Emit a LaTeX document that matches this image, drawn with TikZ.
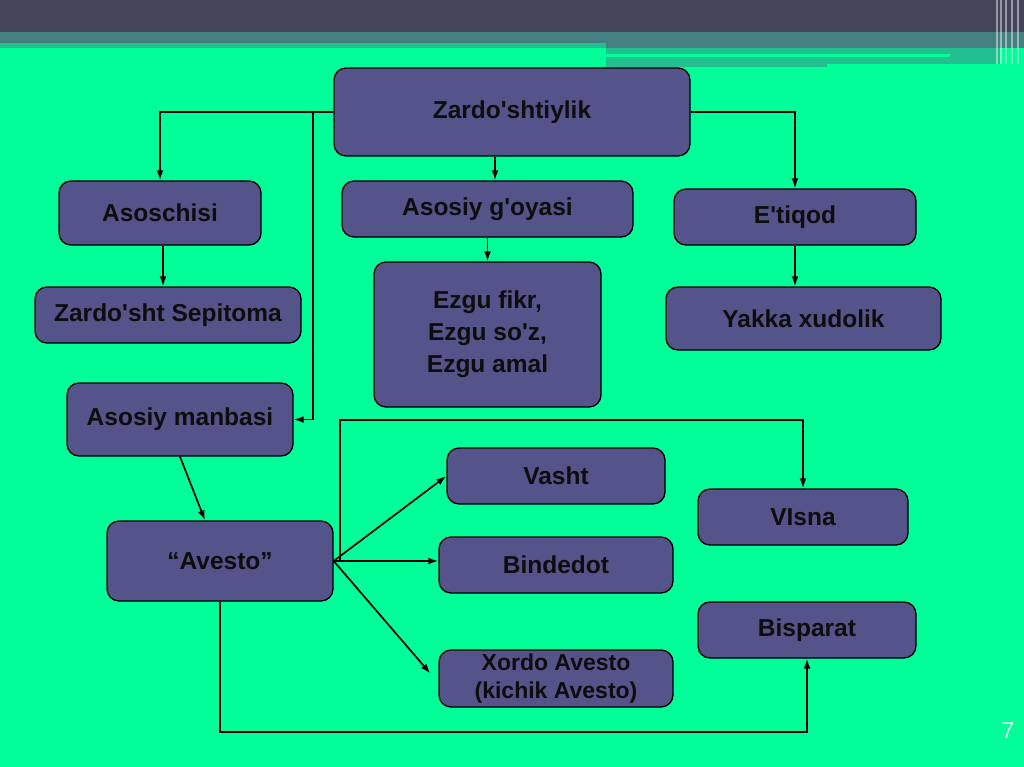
\documentclass[tikz,border=0pt]{standalone}
\usepackage{fontspec}
\setmainfont{Liberation Sans}
\usepackage{tikz}
\usetikzlibrary{arrows.meta}
\definecolor{slidegreen}{RGB}{0,255,153}
\definecolor{stripegreen}{RGB}{34,192,142}
\definecolor{barblue}{RGB}{66,68,90}
\definecolor{bandteal}{RGB}{69,128,128}
\definecolor{boxblue}{RGB}{84,84,138}
\tikzstyle{box} = [draw=black, fill=boxblue, rounded corners=12pt, line width=1.3pt, inner sep=0pt, align=center, text=black!95, font=\bfseries\fontsize{24.5}{32}\selectfont]
\tikzstyle{link} = [-{Latex[length=10pt,width=7pt]}, line width=1.7pt]

\begin{document}
\begin{tikzpicture}[x=1pt,y=-1pt]
\useasboundingbox (0,0) rectangle (1024,767);
\fill[slidegreen] (0,0) rectangle (1024,767);

% slide header
\fill[barblue] (0,0) rectangle (1024,32);
\fill[bandteal] (0,32) rectangle (1024,43);
\fill[stripegreen] (0,43) rectangle (606,48);
\fill[bandteal] (606,43) rectangle (1024,48);
\fill[stripegreen] (606,48) rectangle (1000,67);
\fill[slidegreen] (606,54) rectangle (950,57);
\fill[slidegreen] (827,64) rectangle (1000,67);
\foreach \x in {997,1001,1006,1012,1018} {
    \draw[white, opacity=0.45, line width=1.5pt] (\x,0) -- (\x,64);
}

% boxes
\node[box, minimum width=356, minimum height=88] (zard) at (512,112) {Zardo\textquotesingle shtiylik};
\node[box, minimum width=202, minimum height=64] (asos) at (160,213) {Asoschisi};
\node[box, minimum width=291, minimum height=56] (goya) at (487.5,209) {Asosiy g\textquotesingle oyasi};
\node[box, minimum width=242, minimum height=56] (etiq) at (795,217) {E\textquotesingle tiqod};
\node[box, minimum width=266, minimum height=56] (sepit) at (168,315) {Zardo\textquotesingle sht Sepitoma};
\node[box, minimum width=227, minimum height=145] (ezgu) at (487.5,334.5) {Ezgu fikr,\\ Ezgu so\textquotesingle z,\\ Ezgu amal};
\node[box, minimum width=275, minimum height=63] (yakka) at (803.5,318.5) {Yakka xudolik};
\node[box, minimum width=226, minimum height=73] (manba) at (180,419.5) {Asosiy manbasi};
\node[box, minimum width=226, minimum height=80] (avesto) at (220,561) {``Avesto''};
\node[box, minimum width=218, minimum height=56] (vasht) at (556,476) {Vasht};
\node[box, minimum width=210, minimum height=56] (visna) at (803,517) {VIsna};
\node[box, minimum width=234, minimum height=56] (binde) at (556,565) {Bindedot};
\node[box, minimum width=218, minimum height=56] (bispa) at (807,630) {Bisparat};
\node[box, minimum width=234, minimum height=57, font=\bfseries\fontsize{23}{28}\selectfont] (xordo) at (556,678.5) {Xordo Avesto\\ (kichik Avesto)};

\node[text=white!85!slidegreen, font=\fontsize{23}{27}\selectfont] (pnum) at (1008,731) {7};

% connectors
\coordinate (split) at (313,112);
\draw[link] (zard.west) -| (asos.north);
\draw[link] (split) |- (manba.east);
\draw[link] ([xshift=-17pt]zard.south) -- ([xshift=7.5pt]goya.north);
\draw[link] (zard.east) -| (etiq.north);
\draw[link] ([xshift=3pt]asos.south) -- ([xshift=3pt]asos.south |- sepit.north);
\draw[link] (goya.south) -- (ezgu.north);
\draw[link] (etiq.south) -- (etiq.south |- yakka.north);
\draw[link] (manba.south) -- ([xshift=-15pt]avesto.north);

\draw[link] (avesto.east) -- (vasht.west);
\draw[link] (avesto.east) -- (avesto.east -| binde.west);
\draw[link] (avesto.east) -- ([xshift=-8pt,yshift=5pt]xordo.west);
\draw[link] ([xshift=6pt]avesto.east) -- ++(0,-141) -| (visna.north);
\draw[link] (avesto.south) -- ++(0,130) -| (bispa.south);
\end{tikzpicture}
\end{document}
